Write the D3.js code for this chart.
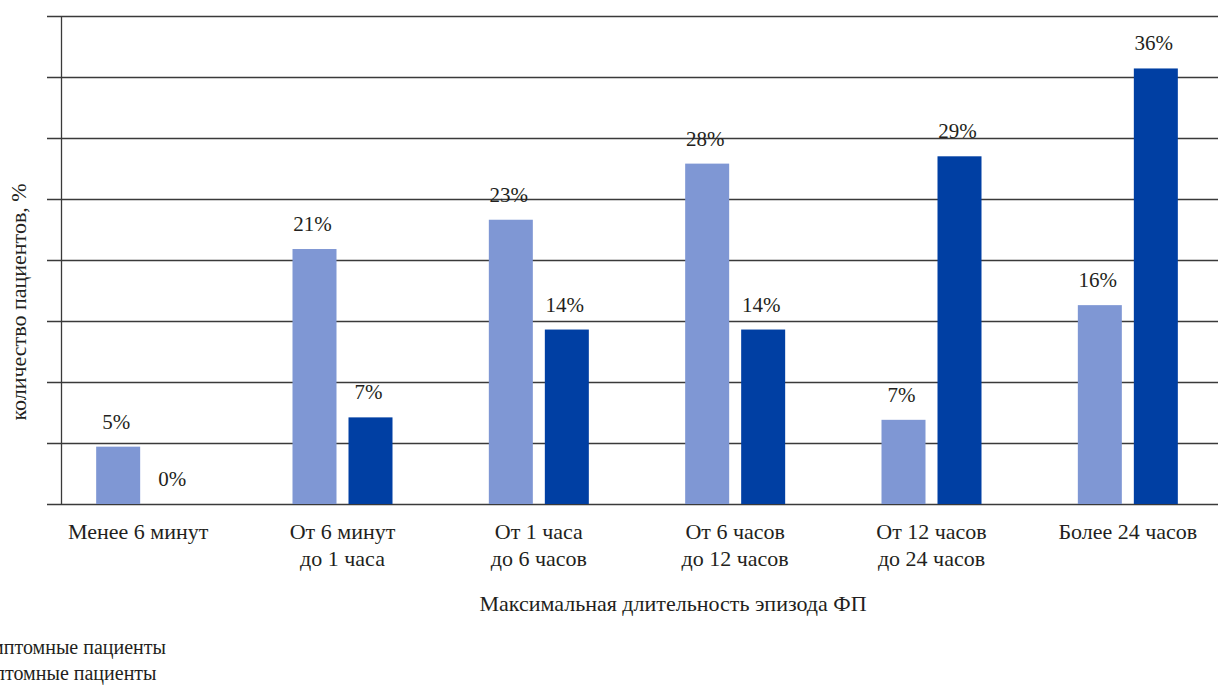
<!DOCTYPE html>
<html><head>
<script src="https://cdn.jsdelivr.net/npm/d3@7"></script>
</head>
<body style="margin:0;overflow:hidden"><svg id="c" width="1218" height="686"></svg>
<script>
const categories = [
  ["Менее 6 минут"],
  ["От 6 минут", "до 1 часа"],
  ["От 1 часа", "до 6 часов"],
  ["От 6 часов", "до 12 часов"],
  ["От 12 часов", "до 24 часов"],
  ["Более 24 часов"]
];
const seriesNames = ["Асимптомные пациенты", "Симптомные пациенты"];
const asymptomatic = [4.7, 20.9, 23.3, 27.9, 6.9, 16.3];
const symptomatic  = [0, 7.1, 14.3, 14.3, 28.5, 35.7];
const asymptomaticLabels = ["5%", "21%", "23%", "28%", "7%", "16%"];
const symptomaticLabels  = ["0%", "7%", "14%", "14%", "29%", "36%"];
const yTicks = [0, 5, 10, 15, 20, 25, 30, 35, 40];
const colors = ["#7f97d4", "#003fa3"];

const FONT = "serif";
const TXT = "#231f20";
const svg = d3.select("#c");
const plotTop = 16, plotBottom = 504, axisX = 61, gridLeft = 47, gridRight = 1218;

function styleText(sel, size) {
  return sel.attr("font-family", FONT).attr("fill", TXT).attr("font-size", size);
}

function draw() {
  svg.selectAll("*").remove();
  const y = d3.scaleLinear().domain([0, 40]).range([plotBottom, plotTop]);
  const x0 = d3.scaleBand().domain(d3.range(categories.length)).range([48, 1226]);
  const x1 = d3.scaleBand().domain([0, 1])
    .range([x0.bandwidth()/2 - 50, x0.bandwidth()/2 + 50]).paddingInner(12/56).paddingOuter(0);

  // grid
  svg.append("g").selectAll("line").data(yTicks).join("line")
    .attr("x1", gridLeft).attr("x2", gridRight)
    .attr("y1", d => Math.round(y(d)) + 0.5).attr("y2", d => Math.round(y(d)) + 0.5)
    .attr("stroke", "#3a3a3a").attr("stroke-width", 1.3);

  // vertical axis
  svg.append("line").attr("x1", axisX + 0.5).attr("x2", axisX + 0.5)
    .attr("y1", y(40)).attr("y2", y(0)).attr("stroke", "#3a3a3a").attr("stroke-width", 1.3);

  const series = [
    {vals: asymptomatic, labels: asymptomaticLabels},
    {vals: symptomatic, labels: symptomaticLabels}
  ];

  series.forEach((s, si) => {
    s.vals.forEach((d, i) => {
      svg.append("rect")
        .attr("x", x0(i) + x1(si))
        .attr("width", x1.bandwidth())
        .attr("y", y(d))
        .attr("height", y(0) - y(d))
        .attr("fill", colors[si]);
      styleText(svg.append("text"), 21)
        .attr("x", x0(i) + x1(si) + x1.bandwidth()/2 - 2)
        .attr("y", y(d) - 18)
        .attr("text-anchor", "middle")
        .text(s.labels[i]);
    });
  });

  // category labels
  categories.forEach((lines, i) => {
    lines.forEach((line, j) => {
      styleText(svg.append("text"), 22)
        .attr("x", x0(i) + x0.bandwidth()/2 - (i === 0 ? 8 : 0))
        .attr("y", 539 + j*27)
        .attr("text-anchor", "middle")
        .text(line);
    });
  });

  // axis titles
  styleText(svg.append("text"), 22).attr("x", 673).attr("y", 611).attr("text-anchor", "middle")
    .text("Максимальная длительность эпизода ФП");
  styleText(svg.append("text"), 22).attr("transform", "translate(26,302) rotate(-90)")
    .attr("text-anchor", "middle").text("количество пациентов, %");

  // legend (partially outside the visible area on the left, as in the source)
  const legTexts = seriesNames.map((n, i) => styleText(svg.append("text"), 20)
    .attr("y", 654 + i*26).text(n));
  const w0 = legTexts[0].node().getComputedTextLength();
  const lx = 166 - w0;
  legTexts.forEach(t => t.attr("x", lx));
  seriesNames.forEach((n, i) => {
    svg.append("rect").attr("x", lx - 26).attr("y", 640 + i*26).attr("width", 14).attr("height", 14).attr("fill", colors[i]);
  });
}

draw();
if (document.fonts && document.fonts.load) {
  document.fonts.load("22px " + FONT, "Менее 6 минут").then(draw).catch(() => {});
}
setTimeout(draw, 150);
</script></body></html>
